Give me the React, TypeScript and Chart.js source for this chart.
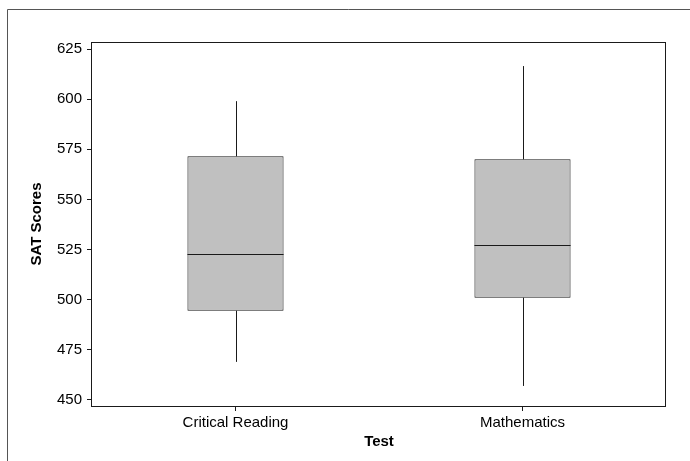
import React, { useEffect, useRef } from "react";
import { Chart, registerables } from "chart.js";

Chart.register(...registerables);

// Five-number summaries of SAT scores by test section
const categories = ["Critical Reading", "Mathematics"];
const lowWhisker = [469, 457];
const q1 = [494.5, 501];
const median = [523, 527.5];
const q3 = [571.5, 570];
const highWhisker = [599, 616.5];

const yTicks = [450, 475, 500, 525, 550, 575, 600, 625];

const FONT = "'Liberation Sans', Arial, sans-serif";

// Draws whiskers, median lines, the plot frame and the outer page frame
const boxPlotExtras = {
  id: "boxPlotExtras",
  afterDatasetsDraw(chart: any) {
    const { ctx, chartArea, scales } = chart;
    const x = scales.x;
    const y = scales.y;
    const meta = chart.getDatasetMeta(0);
    ctx.save();
    ctx.strokeStyle = "#1a1a1a";
    ctx.lineWidth = 1;
    categories.forEach((_, i) => {
      const bar = meta.data[i];
      const cx = Math.round(x.getPixelForValue(i)) + 0.5;
      const half = bar.width / 2;
      const yHi = y.getPixelForValue(highWhisker[i]);
      const yQ3 = y.getPixelForValue(q3[i]);
      const yQ1 = y.getPixelForValue(q1[i]);
      const yLo = y.getPixelForValue(lowWhisker[i]);
      const yMed = Math.round(y.getPixelForValue(median[i])) + 0.5;
      ctx.beginPath();
      ctx.moveTo(cx, yHi);
      ctx.lineTo(cx, yQ3);
      ctx.moveTo(cx, yQ1);
      ctx.lineTo(cx, yLo);
      ctx.moveTo(bar.x - half, yMed);
      ctx.lineTo(bar.x + half, yMed);
      ctx.stroke();
    });
    // plot frame
    ctx.strokeStyle = "#1a1a1a";
    const l = Math.round(chartArea.left) - 0.5;
    const t = Math.round(chartArea.top) + 0.5;
    const r = Math.round(chartArea.right) - 0.5;
    const b = Math.round(chartArea.bottom) + 0.5;
    ctx.strokeRect(l, t, r - l, b - t);
    ctx.restore();
  },
  afterDraw(chart: any) {
    const { ctx, width, height } = chart;
    ctx.save();
    ctx.strokeStyle = "#555555";
    ctx.lineWidth = 1;
    ctx.beginPath();
    ctx.moveTo(7.5, height);
    ctx.lineTo(7.5, 9.5);
    ctx.lineTo(width, 9.5);
    ctx.stroke();
    ctx.restore();
  },
};

export default function App() {
  const canvasRef = useRef<HTMLCanvasElement | null>(null);

  useEffect(() => {
    document.body.style.margin = "0";
    const canvas = canvasRef.current;
    if (!canvas) return;
    const chart = new Chart(canvas, {
      type: "bar",
      data: {
        labels: categories,
        datasets: [
          {
            label: "SAT Scores",
            data: q1.map((v, i) => [v, q3[i]]) as any,
            backgroundColor: "#c0c0c0",
            borderColor: "#1a1a1a",
            borderWidth: 1,
            borderSkipped: false,
            barPercentage: 0.335,
            categoryPercentage: 1,
          },
        ],
      },
      options: {
        responsive: false,
        animation: false,
        devicePixelRatio: 1,
        layout: { padding: { left: 0, top: 42, right: 24, bottom: 0 } },
        plugins: {
          legend: { display: false },
          tooltip: { enabled: false },
        },
        scales: {
          x: {
            type: "category",
            offset: true,
            afterFit: (s: any) => {
              s.height = 55;
            },
            grid: {
              drawOnChartArea: false,
              drawTicks: true,
              tickLength: 5,
              color: "#1a1a1a",
              offset: false,
            },
            border: { display: false },
            ticks: {
              color: "#000",
              padding: 3,
              font: { family: FONT, size: 15 },
            },
            title: {
              display: true,
              text: "Test",
              color: "#000",
              font: { family: FONT, size: 15, weight: "bold" },
              padding: { top: 0, bottom: 10 },
            },
          },
          y: {
            type: "linear",
            min: 447,
            max: 628.5,
            afterFit: (s: any) => {
              s.width = 92;
            },
            afterBuildTicks: (s: any) => {
              s.ticks = yTicks.map((v) => ({ value: v }));
            },
            grid: {
              drawOnChartArea: false,
              drawTicks: true,
              tickLength: 5,
              color: "#1a1a1a",
            },
            border: { display: false },
            ticks: {
              color: "#000",
              padding: 5,
              includeBounds: false,
              font: { family: FONT, size: 15 },
            },
            title: {
              display: true,
              text: "SAT Scores",
              color: "#000",
              font: { family: FONT, size: 15, weight: "bold" },
              padding: { top: 28, bottom: 0 },
            },
          },
        },
      },
      plugins: [boxPlotExtras],
    });
    return () => chart.destroy();
  }, []);

  return (
    <div style={{ width: 690, height: 461, background: "#fff" }}>
      <canvas ref={canvasRef} width={690} height={461} />
    </div>
  );
}
